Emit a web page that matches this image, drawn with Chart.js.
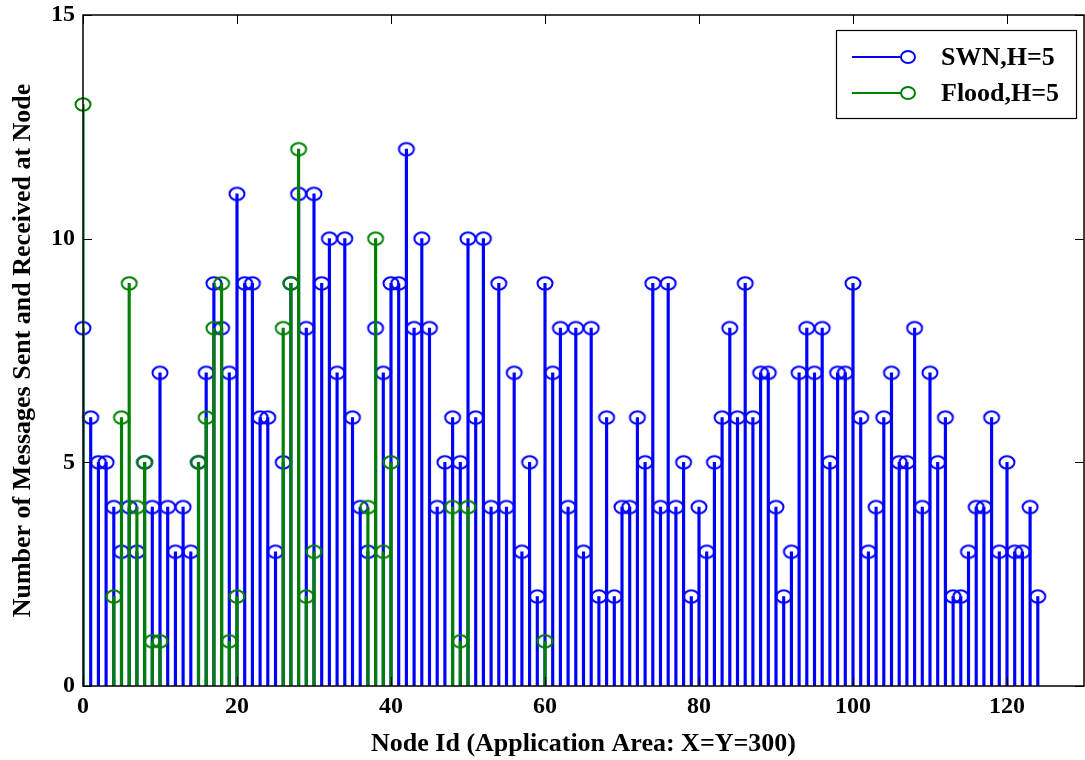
<!DOCTYPE html>
<html>
<head>
<meta charset="utf-8">
<script src="https://cdn.jsdelivr.net/npm/chart.js@4/dist/chart.umd.min.js"></script>
<style>
  html, body { margin: 0; padding: 0; background: #ffffff; overflow: hidden; }
  #wrap { width: 1085px; height: 760px; position: relative; overflow: hidden; }
</style>
</head>
<body>
<div id="wrap"><canvas id="c" width="1093" height="760"></canvas></div>
<script>
// ---- data ----
const swnValues = [
  8, 6, 5, 5, 4, 3, 4, 3, 5, 4,
  7, 4, 3, 4, 3, 5, 7, 9, 8, 7,
  11, 9, 9, 6, 6, 3, 5, 9, 11, 8,
  11, 9, 10, 7, 10, 6, 4, 3, 8, 7,
  9, 9, 12, 8, 10, 8, 4, 5, 6, 5,
  10, 6, 10, 4, 9, 4, 7, 3, 5, 2,
  9, 7, 8, 4, 8, 3, 8, 2, 6, 2,
  4, 4, 6, 5, 9, 4, 9, 4, 5, 2,
  4, 3, 5, 6, 8, 6, 9, 6, 7, 7,
  4, 2, 3, 7, 8, 7, 8, 5, 7, 7,
  9, 6, 3, 4, 6, 7, 5, 5, 8, 4,
  7, 5, 6, 2, 2, 3, 4, 4, 6, 3,
  5, 3, 3, 4, 2
];
const swnNodes = swnValues.map((v, i) => i);
const floodNodes  = [0, 4, 5, 6, 7, 8, 9, 10, 15, 16, 17, 18, 19, 20, 26, 27, 28, 29, 30, 37, 38, 39, 40, 48, 49, 50, 60];
const floodValues = [13, 2, 6, 9, 4, 5, 1, 1, 5, 6, 8, 9, 1, 2, 8, 9, 12, 2, 3, 4, 10, 3, 5, 4, 1, 4, 1];
const xTicks = [0, 20, 40, 60, 80, 100, 120];
const yTicks = [0, 5, 10, 15];
const seriesNames = ['SWN,H=5', 'Flood,H=5'];
const seriesColors = ['#0000ff', '#008000'];

const swnPts = swnNodes.map((x, i) => ({ x: x, y: swnValues[i] }));
const floodPts = floodNodes.map((x, i) => ({ x: x, y: floodValues[i] }));

const FONT = "'Liberation Serif', 'Times New Roman', serif";

function ellipseMarker(color) {
  const c = document.createElement('canvas');
  c.width = 20; c.height = 17;
  const g = c.getContext('2d');
  g.strokeStyle = color;
  g.lineWidth = 2;
  g.beginPath();
  g.ellipse(10, 8.5, 7.5, 6.2, 0, 0, Math.PI * 2);
  g.stroke();
  return c;
}

const inwardTicks = {
  id: 'inwardTicks',
  afterDatasetsDraw(chart) {
    const { ctx, chartArea: a, scales } = chart;
    ctx.save();
    ctx.strokeStyle = '#000';
    ctx.lineWidth = 1;
    ctx.beginPath();
    xTicks.forEach(v => {
      const px = Math.round(scales.x.getPixelForValue(v)) + 0.5;
      ctx.moveTo(px, a.bottom); ctx.lineTo(px, a.bottom - 9);
      ctx.moveTo(px, a.top); ctx.lineTo(px, a.top + 9);
    });
    yTicks.forEach(v => {
      const py = Math.round(scales.y.getPixelForValue(v)) + 0.5;
      ctx.moveTo(a.left, py); ctx.lineTo(a.left + 9, py);
      ctx.moveTo(a.right, py); ctx.lineTo(a.right - 9, py);
    });
    ctx.stroke();
    ctx.lineWidth = 1.5;
    ctx.strokeRect(a.left, a.top, a.right - a.left, a.bottom - a.top);
    ctx.restore();
  }
};

const boxLegend = {
  id: 'boxLegend',
  afterDraw(chart) {
    const { ctx, chartArea: a } = chart;
    const w = 240, h = 88;
    const x0 = a.right - 8 - w, y0 = a.top + 15;
    ctx.save();
    ctx.fillStyle = '#fff';
    ctx.fillRect(x0, y0, w, h);
    ctx.strokeStyle = '#000';
    ctx.lineWidth = 1.2;
    ctx.strokeRect(x0 + 0.5, y0 + 0.5, w, h);
    seriesNames.forEach((name, i) => {
      const yy = y0 + 27 + i * 36;
      ctx.strokeStyle = seriesColors[i];
      ctx.lineWidth = 2;
      ctx.beginPath();
      ctx.moveTo(x0 + 16, yy); ctx.lineTo(x0 + 66, yy);
      ctx.stroke();
      ctx.beginPath();
      ctx.ellipse(x0 + 72, yy, 7, 6, 0, 0, Math.PI * 2);
      ctx.stroke();
      ctx.fillStyle = '#000';
      ctx.font = 'bold 26px ' + FONT;
      ctx.textBaseline = 'middle';
      ctx.textAlign = 'left';
      ctx.fillText(name, x0 + 105, yy + 1);
    });
    ctx.restore();
  }
};

const stemBar = (pts, color, order) => ({
  type: 'bar',
  data: pts,
  backgroundColor: color,
  borderWidth: 0,
  barThickness: 2.5,
  grouped: false,
  order: order
});
const stemPoint = (pts, color, order, label) => ({
  type: 'scatter',
  label: label,
  data: pts,
  showLine: false,
  pointStyle: ellipseMarker(color),
  pointRadius: 8,
  clip: false,
  order: order
});

new Chart(document.getElementById('c'), {
  type: 'scatter',
  data: {
    datasets: [
      stemBar(swnPts, seriesColors[0], 4),
      stemPoint(swnPts, seriesColors[0], 3, seriesNames[0]),
      stemBar(floodPts, seriesColors[1], 2),
      stemPoint(floodPts, seriesColors[1], 1, seriesNames[1])
    ]
  },
  options: {
    responsive: false,
    animation: false,
    layout: { padding: { top: 15, right: 1, left: 0, bottom: 0 } },
    plugins: { legend: { display: false }, tooltip: { enabled: false } },
    scales: {
      x: {
        type: 'linear',
        min: 0, max: 130,
        offset: false,
        grid: { display: false, drawTicks: false },
        border: { display: false },
        afterBuildTicks: s => { s.ticks = xTicks.map(v => ({ value: v })); },
        afterFit: s => { s.height = 74; s.paddingLeft = 0; s.paddingRight = 0; },
        ticks: { color: '#000', padding: 6, maxRotation: 0, font: { family: FONT, size: 24, weight: 'bold' } },
        title: { display: true, text: 'Node Id (Application Area: X=Y=300)', color: '#000', padding: { top: 0, bottom: 0 }, font: { family: FONT, size: 26, weight: 'bold' } }
      },
      y: {
        type: 'linear',
        min: 0, max: 15,
        grid: { display: false, drawTicks: false },
        border: { display: false },
        afterBuildTicks: s => { s.ticks = yTicks.map(v => ({ value: v })); },
        afterFit: s => { s.width = 83; s.paddingTop = 0; s.paddingBottom = 0; },
        ticks: { color: '#000', padding: 8, font: { family: FONT, size: 24, weight: 'bold' } },
        title: { display: true, text: 'Number of Messages Sent and Received at Node', color: '#000', padding: { top: 8, bottom: 0 }, font: { family: FONT, size: 26, weight: 'bold' } }
      }
    }
  },
  plugins: [inwardTicks, boxLegend]
});
</script>
</body>
</html>
